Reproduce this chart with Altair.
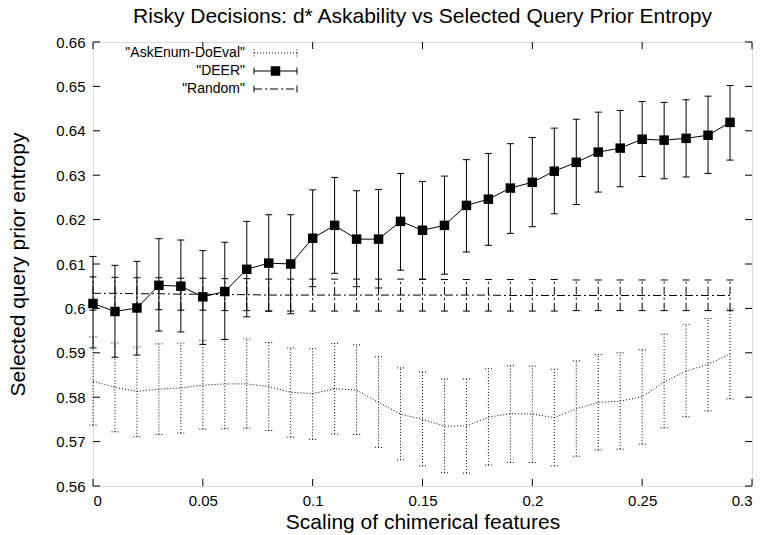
import altair as alt
import pandas as pd

FONT = "Liberation Sans"

# ---------------- data ----------------
x_vals = [0.00, 0.01, 0.02, 0.03, 0.04, 0.05, 0.06, 0.07, 0.08, 0.09,
          0.10, 0.11, 0.12, 0.13, 0.14, 0.15, 0.16, 0.17, 0.18, 0.19,
          0.20, 0.21, 0.22, 0.23, 0.24, 0.25, 0.26, 0.27, 0.28, 0.29]

deer_mean = [0.6011, 0.5993, 0.6001, 0.6052, 0.6050, 0.6026, 0.6038, 0.6088, 0.6102, 0.6100,
             0.6158, 0.6187, 0.6156, 0.6156, 0.6196, 0.6176, 0.6187, 0.6232, 0.6246, 0.6271,
             0.6284, 0.6309, 0.6329, 0.6352, 0.6361, 0.6381, 0.6379, 0.6383, 0.6390, 0.6419]
deer_hi = [0.6117, 0.6097, 0.6106, 0.6157, 0.6154, 0.6130, 0.6149, 0.6196, 0.6211, 0.6211,
           0.6267, 0.6295, 0.6265, 0.6268, 0.6304, 0.6286, 0.6298, 0.6335, 0.6349, 0.6371,
           0.6385, 0.6406, 0.6426, 0.6442, 0.6446, 0.6466, 0.6464, 0.6470, 0.6478, 0.6502]
deer_lo = [0.5911, 0.5890, 0.5895, 0.5949, 0.5947, 0.5919, 0.5930, 0.5981, 0.5994, 0.5988,
           0.6049, 0.6079, 0.6049, 0.6046, 0.6086, 0.6065, 0.6077, 0.6127, 0.6142, 0.6169,
           0.6184, 0.6213, 0.6234, 0.6262, 0.6274, 0.6297, 0.6292, 0.6296, 0.6304, 0.6334]

ask_mean = [0.5836, 0.5822, 0.5813, 0.5818, 0.5821, 0.5827, 0.5830, 0.5830, 0.5824, 0.5811,
            0.5808, 0.5819, 0.5816, 0.5788, 0.5762, 0.5750, 0.5735, 0.5735, 0.5755, 0.5763,
            0.5762, 0.5754, 0.5774, 0.5788, 0.5791, 0.5801, 0.5834, 0.5859, 0.5874, 0.5897]
ask_hi = [0.5936, 0.5922, 0.5913, 0.5920, 0.5922, 0.5928, 0.5930, 0.5931, 0.5923, 0.5911,
          0.5909, 0.5921, 0.5918, 0.5891, 0.5866, 0.5857, 0.5841, 0.5841, 0.5864, 0.5871,
          0.5870, 0.5863, 0.5882, 0.5896, 0.5900, 0.5907, 0.5942, 0.5964, 0.5977, 0.5999]
ask_lo = [0.5737, 0.5722, 0.5711, 0.5716, 0.5719, 0.5728, 0.5729, 0.5730, 0.5725, 0.5710,
          0.5705, 0.5717, 0.5716, 0.5687, 0.5659, 0.5645, 0.5630, 0.5629, 0.5647, 0.5653,
          0.5653, 0.5645, 0.5667, 0.5681, 0.5683, 0.5694, 0.5731, 0.5756, 0.5769, 0.5796]

rand_mean = [0.6034, 0.6034, 0.6033, 0.6033, 0.6032, 0.6032, 0.6031, 0.6031, 0.6030, 0.6030,
             0.6030, 0.6030, 0.6030, 0.6030, 0.6030, 0.6030, 0.6030, 0.6030, 0.6030, 0.6029,
             0.6029, 0.6029, 0.6029, 0.6029, 0.6029, 0.6029, 0.6029, 0.6029, 0.6029, 0.6029]
rand_hi = [0.6071, 0.6070, 0.6069, 0.6069, 0.6068, 0.6068, 0.6067, 0.6067, 0.6066, 0.6066,
           0.6066, 0.6066, 0.6066, 0.6066, 0.6066, 0.6066, 0.6065, 0.6065, 0.6065, 0.6065,
           0.6065, 0.6065, 0.6064, 0.6064, 0.6064, 0.6064, 0.6064, 0.6064, 0.6064, 0.6064]
rand_lo = [0.5996, 0.5997, 0.5997, 0.5997, 0.5996, 0.5996, 0.5995, 0.5995, 0.5994, 0.5994,
           0.5994, 0.5994, 0.5994, 0.5994, 0.5994, 0.5994, 0.5994, 0.5994, 0.5994, 0.5994,
           0.5994, 0.5994, 0.5995, 0.5995, 0.5995, 0.5995, 0.5995, 0.5995, 0.5995, 0.5995]

series_names = ['"AskEnum-DoEval"', '"DEER"', '"Random"']
x_ticks = [0, 0.05, 0.1, 0.15, 0.2, 0.25, 0.3]
y_ticks = [0.56, 0.57, 0.58, 0.59, 0.60, 0.61, 0.62, 0.63, 0.64, 0.65, 0.66]

TITLE = "Risky Decisions: d* Askability vs Selected Query Prior Entropy"
X_TITLE = "Scaling of chimerical features"
Y_TITLE = "Selected query prior entropy"

# ---------------- layout / style ----------------
W, H = 659, 444
TICK = 7
CAP = 3.5
DOT = [1, 2]
DASHDOT = [8, 3, 2, 3]
LABEL_FS = 15
TITLE_FS = 21
AXTITLE_FS = 21

xs = alt.Scale(domain=[0, 0.3], nice=False, zero=False)
ys = alt.Scale(domain=[0.56, 0.66], nice=False, zero=False)

X_AX = alt.Axis(values=x_ticks, format="~g", tickSize=0, domain=False, grid=False,
                labelPadding=7, labelFontSize=LABEL_FS, labelColor="black", labelFont=FONT,
                title=X_TITLE, titleFontSize=AXTITLE_FS, titleFontWeight="normal",
                titleColor="black", titleFont=FONT, titleY=36, titleBaseline="middle",
                titleAlign="center", titleX=W / 2)
Y_AX = alt.Axis(values=y_ticks, format="~g", tickSize=0, domain=False, grid=False,
                labelPadding=8, labelFontSize=LABEL_FS, labelColor="black", labelFont=FONT,
                title=Y_TITLE, titleFontSize=AXTITLE_FS, titleFontWeight="normal",
                titleColor="black", titleFont=FONT, titleX=-75, titleY=H / 2, titleAngle=270,
                titleBaseline="middle", titleAlign="center")


def X(field="x"):
    return alt.X(f"{field}:Q", scale=xs, axis=X_AX)


def Y(field):
    return alt.Y(f"{field}:Q", scale=ys, axis=Y_AX)


def frame(mean, lo, hi):
    return pd.DataFrame({"x": x_vals, "m": mean, "lo": lo, "hi": hi})


def series_layers(df, dash, squares=False):
    kw = {"color": "black", "strokeWidth": 1}
    if dash:
        kw["strokeDash"] = dash
    base = alt.Chart(df)
    layers = [
        base.mark_rule(**kw).encode(x=X(), y=Y("lo"), y2="hi:Q"),
        base.mark_rule(xOffset=-CAP, x2Offset=CAP, **kw).encode(x=X(), x2="x:Q", y=Y("hi")),
        base.mark_rule(xOffset=-CAP, x2Offset=CAP, **kw).encode(x=X(), x2="x:Q", y=Y("lo")),
        base.mark_line(**kw).encode(x=X(), y=Y("m")),
    ]
    if squares:
        layers.append(base.mark_square(size=90, color="black", opacity=1, filled=True)
                      .encode(x=X(), y=Y("m")))
    return layers


ask_df = frame(ask_mean, ask_lo, ask_hi)
deer_df = frame(deer_mean, deer_lo, deer_hi)
rand_df = frame(rand_mean, rand_lo, rand_hi)

layers = []
layers += series_layers(ask_df, DOT)
layers += series_layers(rand_df, DASHDOT)
layers += series_layers(deer_df, None, squares=True)

# inward ticks on all four borders
xt = pd.DataFrame({"x": x_ticks})
yt = pd.DataFrame({"y": y_ticks})
tk = {"color": "black", "strokeWidth": 1}
layers += [
    alt.Chart(xt).mark_rule(**tk).encode(x=X(), y=alt.value(H), y2=alt.value(H - TICK)),
    alt.Chart(xt).mark_rule(**tk).encode(x=X(), y=alt.value(0), y2=alt.value(TICK)),
    alt.Chart(yt).mark_rule(**tk).encode(y=Y("y"), x=alt.value(0), x2=alt.value(TICK)),
    alt.Chart(yt).mark_rule(**tk).encode(y=Y("y"), x=alt.value(W), x2=alt.value(W - TICK)),
]

# legend (top-left, inside the frame)
one = alt.Data(values=[{"k": 1}])
LX_TEXT, LX0, LX1 = 152, 161, 204
rows_y = [11, 29, 47]
dashes = [DOT, None, DASHDOT]
for name, ly, dash in zip(series_names, rows_y, dashes):
    kw = {"color": "black", "strokeWidth": 1}
    if dash:
        kw["strokeDash"] = dash
    layers.append(alt.Chart(one).mark_text(align="right", baseline="middle", fontSize=14,
                                           font=FONT, color="black")
                  .encode(x=alt.value(LX_TEXT), y=alt.value(ly), text=alt.value(name)))
    layers.append(alt.Chart(one).mark_rule(**kw)
                  .encode(x=alt.value(LX0), x2=alt.value(LX1), y=alt.value(ly)))
    for cx in (LX0, LX1):
        layers.append(alt.Chart(one).mark_rule(**kw)
                      .encode(x=alt.value(cx), y=alt.value(ly - CAP), y2=alt.value(ly + CAP)))
    if dash is None:
        layers.append(alt.Chart(one).mark_square(size=90, color="black", opacity=1, filled=True)
                      .encode(x=alt.value((LX0 + LX1) / 2), y=alt.value(ly)))

chart = alt.layer(*layers).properties(
    width=W, height=H,
    title=alt.TitleParams(TITLE, fontSize=TITLE_FS, font=FONT, fontWeight="normal",
                          color="black", anchor="middle", offset=8),
    autosize=alt.AutoSizeParams(type="none"),
    padding={"left": 93, "top": 42, "right": 13, "bottom": 49},
).configure_view(stroke="black", strokeWidth=1).configure(background="white")

chart.save("out.html", embed_options={"renderer": "svg", "actions": False})
